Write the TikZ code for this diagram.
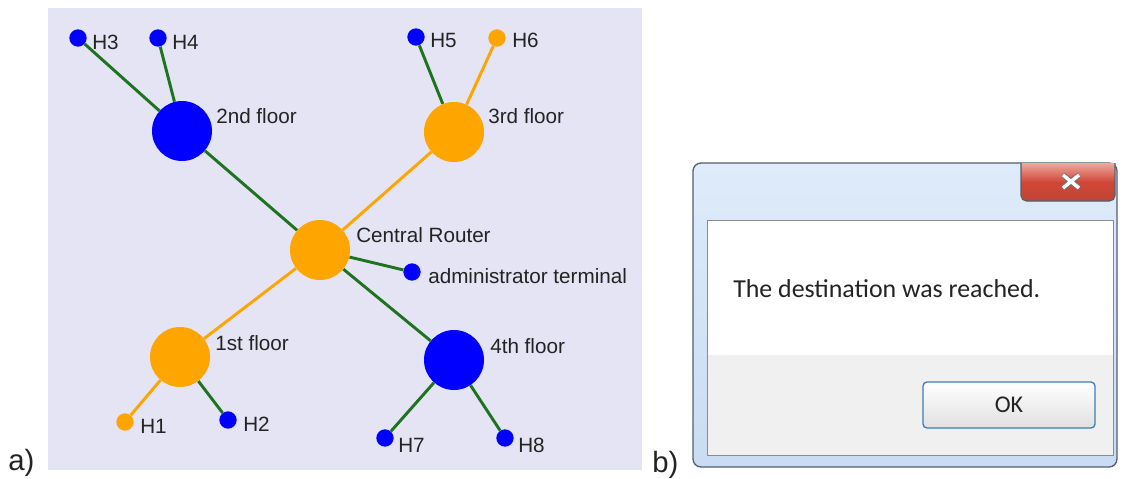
\documentclass[tikz,border=0pt]{standalone}
\usepackage{fontspec}
\setmainfont{Liberation Sans}
\newfontfamily\dlgfont{Carlito}

\definecolor{panelbg}{RGB}{228,228,245}
\definecolor{netblue}{RGB}{0,0,255}
\definecolor{netorange}{RGB}{255,165,0}
\definecolor{netgreen}{RGB}{30,115,30}
\definecolor{frametop}{RGB}{222,235,250}
\definecolor{framebot}{RGB}{200,220,243}
\definecolor{frameedge}{RGB}{85,95,110}
\definecolor{btnedge}{RGB}{60,127,177}
\definecolor{footgray}{RGB}{240,240,240}
\definecolor{closetop}{RGB}{236,170,160}
\definecolor{closemid}{RGB}{210,70,55}
\definecolor{closebot}{RGB}{190,70,55}
\definecolor{inktext}{RGB}{35,35,35}

\pgfdeclarelayer{back}
\pgfdeclarelayer{edges}
\pgfsetlayers{back,edges,main}

\tikzset{
  router/.style={circle, fill=#1, inner sep=0pt, minimum size=45pt},
  host/.style={circle, fill=#1, inner sep=0pt, minimum size=13pt},
  lbl/.style={anchor=base west, inner sep=0pt, text=inktext,
              font=\fontsize{15.5}{18}\selectfont},
  link/.style={draw=#1, line width=2.2pt},
  partlbl/.style={anchor=base west, inner sep=0pt, text=inktext,
              font=\fontsize{22}{26}\selectfont},
}

\begin{document}
\begin{tikzpicture}[x=0.75pt,y=-0.75pt]
\useasboundingbox (0,0) rectangle (1123,478);

% ---------- a) network ----------
\begin{pgfonlayer}{back}
  \fill[panelbg] (48,8) rectangle (642,470);
\end{pgfonlayer}

\node[router=netorange] (cr) at (320,250) {};
\node[router=netblue]   (f2) at (182,131) {};
\node[router=netorange] (f3) at (454,132) {};
\node[router=netorange] (f1) at (180,357) {};
\node[router=netblue]   (f4) at (454,360) {};

\node[host=netblue]   (h3) at (78,38) {};
\node[host=netblue]   (h4) at (158,38) {};
\node[host=netblue]   (h5) at (416,37) {};
\node[host=netorange] (h6) at (497,38) {};
\node[host=netorange] (h1) at (125,422) {};
\node[host=netblue]   (h2) at (228,420) {};
\node[host=netblue]   (h7) at (385,438) {};
\node[host=netblue]   (h8) at (505,438) {};
\node[host=netblue]   (adm) at (412,272) {};

\begin{pgfonlayer}{edges}
  \draw[link=netgreen]  (cr) -- (f2);
  \draw[link=netorange] (cr) -- (f3);
  \draw[link=netorange] (cr) -- (f1);
  \draw[link=netgreen]  (cr) -- (f4);
  \draw[link=netgreen]  (cr) -- (adm);
  \draw[link=netgreen]  (f2) -- (h3);
  \draw[link=netgreen]  (f2) -- (h4);
  \draw[link=netgreen]  (f3) -- (h5);
  \draw[link=netorange] (f3) -- (h6);
  \draw[link=netorange] (f1) -- (h1);
  \draw[link=netgreen]  (f1) -- (h2);
  \draw[link=netgreen]  (f4) -- (h7);
  \draw[link=netgreen]  (f4) -- (h8);
\end{pgfonlayer}

\node[lbl] (l3)  at (92,50)   {H3};
\node[lbl] (l4)  at (172,50)  {H4};
\node[lbl] (l5)  at (430,48)  {H5};
\node[lbl] (l6)  at (512,48)  {H6};
\node[lbl] (l1)  at (140,433) {H1};
\node[lbl] (l2)  at (243,431) {H2};
\node[lbl] (l7)  at (398,452) {H7};
\node[lbl] (l8)  at (518,452) {H8};
\node[lbl] (lf2) at (216,123) {2nd floor};
\node[lbl] (lf3) at (488,123) {3rd floor};
\node[lbl] (lcr) at (356,242) {Central Router};
\node[lbl] (lad) at (428,283) {administrator terminal};
\node[lbl] (lf4) at (490,353) {4th floor};
\node[lbl] (lf1) at (215,350) {1st floor};

\node[partlbl] (pa) at (8,470) {a)};

% ---------- b) message box ----------
\node[partlbl] (pb) at (652,472) {b)};

\draw[frameedge, line width=1pt, rounded corners=6pt,
      top color=frametop, bottom color=framebot]
  (693,163) rectangle (1117,467);

% close button
\draw[frameedge, line width=0.8pt, rounded corners=4pt,
      top color=closetop, bottom color=closebot, middle color=closemid]
  (1021,163) -- (1021,201) -- (1115,201) -- (1115,163);
\draw[black!55, line width=4.2pt] (1063,175) -- (1079,188) (1079,175) -- (1063,188);
\draw[white, line width=2.6pt] (1063,175) -- (1079,188) (1079,175) -- (1063,188);

% client area
\fill[white] (707,220) rectangle (1113,355);
\fill[footgray] (707,355) rectangle (1113,455);
\draw[black!45, line width=0.6pt] (707,220) rectangle (1113,455);

\node[anchor=base west, inner sep=0pt, text=inktext,
      font=\dlgfont\fontsize{19.4}{22}\selectfont] (msg) at (733,297)
  {The destination was reached.};

\draw[btnedge, line width=1pt, rounded corners=3pt,
      top color=white, bottom color=black!12]
  (923,382) rectangle (1095,428);
\node[text=inktext, font=\dlgfont\fontsize{18}{21}\selectfont] (ok)
  at (1009,405) {OK};
\end{tikzpicture}
\end{document}
